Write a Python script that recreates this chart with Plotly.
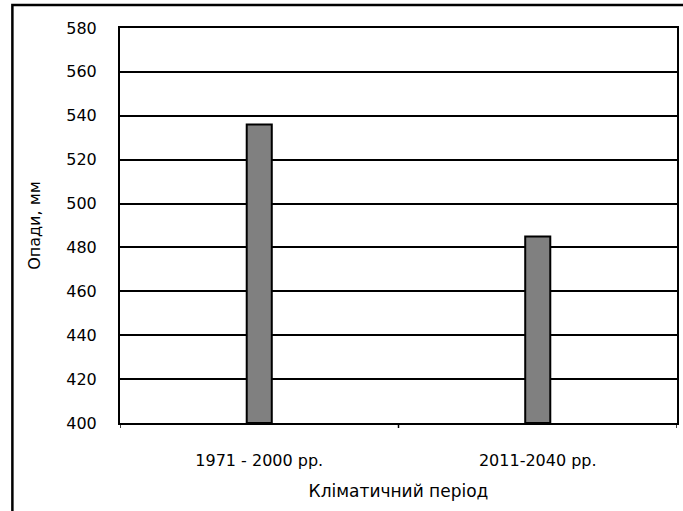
import plotly.graph_objects as go

# Precipitation totals by climatic period
periods = ["1971 - 2000 рр.", "2011-2040 рр."]
precip_mm = [536, 485]
y_ticks = [400, 420, 440, 460, 480, 500, 520, 540, 560, 580]
y_min, y_max = 400, 580

W, H = 683, 511
L, R, T, B = 120, 4, 28, 88
pw, ph = W - L - R, H - T - B

font = dict(family="DejaVu Sans, Verdana, sans-serif", size=16, color="black")

fig = go.Figure(
    go.Bar(
        x=[0, 1],
        y=[v - y_min for v in precip_mm],
        base=y_min,
        width=0.09,
        marker=dict(color="#808080", line=dict(color="black", width=2)),
        hovertext=[f"{v} мм" for v in precip_mm],
    )
)

fig.update_layout(
    width=W,
    height=H,
    margin=dict(l=L, r=R, t=T, b=B),
    paper_bgcolor="white",
    plot_bgcolor="white",
    font=font,
    showlegend=False,
    xaxis=dict(
        range=[-0.5, 1.5],
        tickmode="array",
        tickvals=[0, 1],
        ticktext=periods,
        showgrid=False,
        showline=True,
        linecolor="black",
        linewidth=2,
        mirror=True,
        ticks="",
        ticklabelstandoff=22,
        title=dict(text="Кліматичний період", standoff=16, font=dict(size=17)),
    ),
    yaxis=dict(
        range=[y_min, y_max],
        tickvals=y_ticks,
        showgrid=True,
        gridcolor="black",
        gridwidth=2,
        showline=True,
        linecolor="black",
        linewidth=2,
        mirror=True,
        ticks="",
        ticklabelstandoff=18,
        zeroline=False,
        title=dict(text="Опади, мм", standoff=22, font=dict(size=16)),
    ),
)

# category boundary tick marks below the x axis
for xv in [-0.5, 0.5, 1.5]:
    fig.add_shape(
        type="line", xref="x", yref="paper",
        x0=xv, x1=xv, y0=0, y1=-5 / ph,
        line=dict(color="black", width=1.5),
    )

# outer frame around the chart
fig.add_shape(
    type="rect", xref="paper", yref="paper",
    x0=(12 - L) / pw, x1=(W + 10 - L) / pw,
    y0=-(B + 10) / ph, y1=1 + (T - 5) / ph,
    line=dict(color="black", width=2.5),
    fillcolor="rgba(0,0,0,0)",
    layer="below",
)

fig.write_html("out.html")
